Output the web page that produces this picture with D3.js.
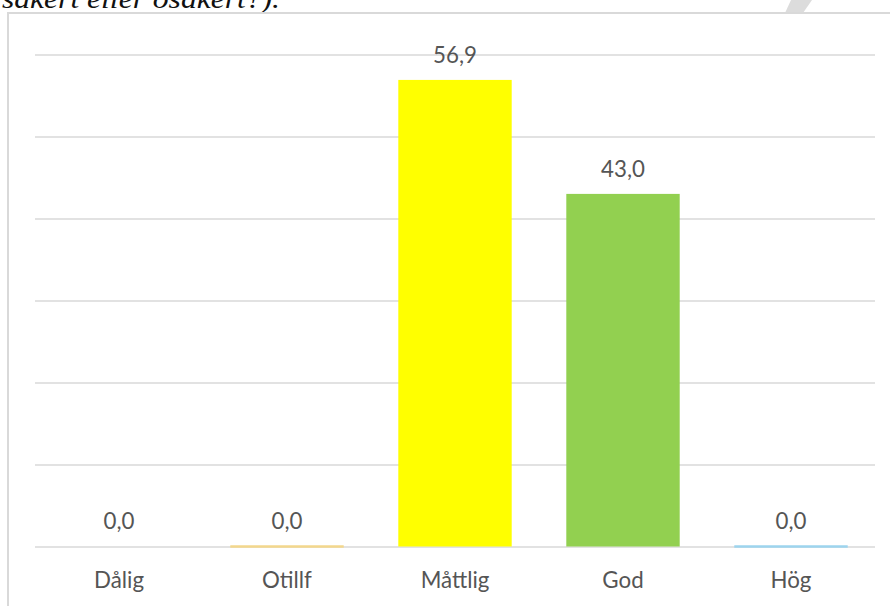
<!DOCTYPE html>
<html>
<head>
<meta charset="utf-8">
<script src="https://cdn.jsdelivr.net/npm/d3@7"></script>
<style>
  html, body { margin: 0; padding: 0; background: #fff; }
  svg { display: block; }
</style>
</head>
<body>
<div id="chart"></div>
<script>
// Category labels and percentage values
const categories = ["Dålig", "Otillf", "Måttlig", "God", "Hög"];
const values = [0.0, 0.0, 56.9, 43.0, 0.0];
// Bar fills and the thin baseline edge shown for zero-height bars
const fills = ["#ff0000", "#ffc000", "#ffff00", "#92d050", "#00b0f0"];
const edges = ["none", "#f3d78c", "none", "none", "#9dd4ee"];
const gridTicks = [0, 10, 20, 30, 40, 50, 60];
const titleTail = "säkert eller osäkert?).";

const W = 890, H = 606;
const svg = d3.select("#chart").append("svg")
  .attr("width", W).attr("height", H);

// Trailing line of the question text above the chart frame
svg.append("text")
  .attr("x", 2).attr("y", 8)
  .attr("font-family", "'Liberation Serif', serif")
  .attr("font-style", "italic")
  .attr("font-size", 27)
  .attr("fill", "#111")
  .attr("textLength", 278)
  .attr("lengthAdjust", "spacingAndGlyphs")
  .text(titleTail);

// Grey decorative slash at the top right
svg.append("path")
  .attr("d", "M791,0 L812,0 L803,13 L785,13 Z")
  .attr("fill", "#dcdcdc");

// Chart frame
svg.append("rect")
  .attr("x", 8).attr("y", 13)
  .attr("width", W).attr("height", H)
  .attr("fill", "#fff")
  .attr("stroke", "#d9d9d9")
  .attr("stroke-width", 2);

const x = d3.scaleBand()
  .domain(categories)
  .range([35, 875])
  .paddingInner(0.325)
  .paddingOuter(0.1625);

const y = d3.scaleLinear()
  .domain([0, 60])
  .range([546.5, 54.5]);

// Horizontal gridlines
const grid = svg.append("g")
  .attr("transform", "translate(35,0)")
  .call(d3.axisLeft(y).tickValues(gridTicks).tickFormat("").tickSize(-840));
grid.select(".domain").remove();
grid.selectAll(".tick line")
  .attr("stroke", "#d9d9d9")
  .attr("stroke-width", 1.6);

const fmt = d3.formatLocale({ decimal: ",", thousands: " ", grouping: [3], currency: ["", ""] }).format(".1f");

// Bars
svg.append("g").selectAll("rect")
  .data(categories)
  .join("rect")
  .attr("x", d => x(d))
  .attr("width", x.bandwidth())
  .attr("y", (d, i) => y(values[i]))
  .attr("height", (d, i) => y(0) - y(values[i]))
  .attr("fill", (d, i) => fills[i]);

// Baseline edge for zero-height bars
svg.append("g").selectAll("line")
  .data(categories.filter((d, i) => edges[i] !== "none"))
  .join("line")
  .attr("x1", d => x(d))
  .attr("x2", d => x(d) + x.bandwidth())
  .attr("y1", d => y(values[categories.indexOf(d)]))
  .attr("y2", d => y(values[categories.indexOf(d)]))
  .attr("stroke", d => edges[categories.indexOf(d)])
  .attr("stroke-width", 2.4);

const labelFont = "Lato, 'Open Sans', sans-serif";

// Value labels
svg.append("g").selectAll("text")
  .data(categories)
  .join("text")
  .attr("x", d => x(d) + x.bandwidth() / 2)
  .attr("y", (d, i) => y(values[i]) - 17.3)
  .attr("text-anchor", "middle")
  .attr("font-family", labelFont)
  .attr("font-size", 22.3)
  .attr("fill", "#555")
  .text((d, i) => fmt(values[i]));

// Category axis labels
svg.append("g").selectAll("text")
  .data(categories)
  .join("text")
  .attr("x", d => x(d) + x.bandwidth() / 2)
  .attr("y", 587.5)
  .attr("text-anchor", "middle")
  .attr("font-family", labelFont)
  .attr("font-size", 22.3)
  .attr("fill", "#555")
  .text(d => d);
</script>
</body>
</html>
